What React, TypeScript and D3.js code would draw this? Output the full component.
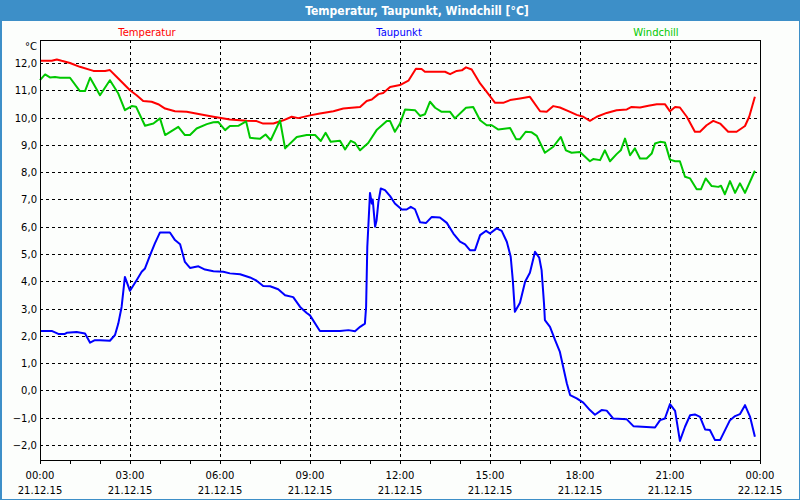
import React from "react";
import * as d3 from "d3";

const tempHours = [0, 0.39, 0.56, 0.72, 1.0, 1.33, 1.78, 2.17, 2.33, 2.61, 3.0, 3.22, 3.44, 3.72, 3.94, 4.17, 4.5, 4.89, 5.33, 5.78, 6.33, 6.89, 7.22, 7.44, 7.78, 8.11, 8.39, 8.61, 9.0, 9.33, 9.78, 10.11, 10.67, 10.89, 11.06, 11.28, 11.44, 11.67, 12.0, 12.28, 12.53, 12.72, 12.83, 13.5, 13.67, 13.89, 14.06, 14.2, 14.39, 14.67, 14.89, 15.17, 15.44, 15.67, 16.0, 16.33, 16.67, 16.89, 17.11, 17.33, 17.67, 17.89, 18.11, 18.33, 18.56, 18.89, 19.22, 19.56, 19.72, 20.0, 20.28, 20.56, 20.83, 21.0, 21.17, 21.33, 21.56, 21.83, 22.0, 22.22, 22.44, 22.67, 22.94, 23.22, 23.5, 23.64, 23.83];
const tempValues = [12.08, 12.08, 12.13, 12.08, 12.0, 11.86, 11.71, 11.71, 11.74, 11.43, 11.0, 10.82, 10.61, 10.58, 10.49, 10.33, 10.23, 10.21, 10.12, 10.03, 9.93, 9.88, 9.87, 9.78, 9.78, 9.9, 10.03, 9.98, 10.08, 10.15, 10.23, 10.33, 10.39, 10.61, 10.66, 10.86, 10.9, 11.12, 11.19, 11.35, 11.79, 11.78, 11.68, 11.68, 11.59, 11.71, 11.73, 11.84, 11.76, 11.25, 10.94, 10.54, 10.54, 10.64, 10.7, 10.76, 10.23, 10.21, 10.42, 10.37, 10.21, 10.1, 10.03, 9.88, 10.03, 10.17, 10.27, 10.3, 10.39, 10.37, 10.43, 10.49, 10.49, 10.23, 10.39, 10.37, 10.03, 9.48, 9.48, 9.72, 9.88, 9.78, 9.48, 9.48, 9.69, 10.03, 10.76];

const dewHours = [0, 0.39, 0.61, 0.83, 0.89, 1.22, 1.5, 1.67, 1.83, 2.0, 2.33, 2.5, 2.61, 2.72, 2.83, 3.0, 3.22, 3.39, 3.5, 3.67, 3.83, 4.0, 4.33, 4.5, 4.67, 4.83, 5.0, 5.28, 5.5, 5.78, 6.11, 6.33, 6.67, 7.0, 7.22, 7.44, 7.67, 7.94, 8.17, 8.44, 8.67, 8.89, 9.0, 9.33, 10.0, 10.28, 10.5, 10.67, 10.83, 10.87, 10.91, 11.0, 11.06, 11.09, 11.17, 11.22, 11.28, 11.36, 11.5, 11.67, 11.83, 12.06, 12.22, 12.36, 12.5, 12.67, 12.87, 13.06, 13.33, 13.56, 13.78, 14.0, 14.17, 14.33, 14.5, 14.67, 14.87, 15.0, 15.22, 15.39, 15.56, 15.69, 15.76, 15.83, 16.0, 16.17, 16.33, 16.5, 16.64, 16.72, 16.8, 16.83, 17.0, 17.17, 17.33, 17.44, 17.56, 17.67, 17.89, 18.11, 18.33, 18.5, 18.72, 18.89, 19.11, 19.56, 19.78, 20.5, 20.67, 20.83, 21.0, 21.17, 21.33, 21.5, 21.67, 21.83, 22.0, 22.17, 22.33, 22.5, 22.67, 23.0, 23.17, 23.33, 23.5, 23.67, 23.83];
const dewValues = [2.18, 2.18, 2.07, 2.07, 2.11, 2.14, 2.09, 1.75, 1.84, 1.84, 1.82, 2.03, 2.45, 3.06, 4.16, 3.65, 4.04, 4.35, 4.47, 4.96, 5.39, 5.79, 5.79, 5.51, 5.36, 4.71, 4.49, 4.55, 4.43, 4.37, 4.35, 4.29, 4.26, 4.14, 4.02, 3.83, 3.82, 3.71, 3.49, 3.42, 3.06, 2.84, 2.75, 2.18, 2.18, 2.21, 2.17, 2.33, 2.45, 3.06, 5.26, 7.24, 6.85, 7.0, 6.0, 6.24, 6.91, 7.4, 7.34, 7.12, 6.85, 6.63, 6.63, 6.73, 6.64, 6.16, 6.14, 6.36, 6.34, 6.14, 5.75, 5.45, 5.35, 5.14, 5.14, 5.69, 5.85, 5.75, 5.94, 5.85, 5.45, 4.9, 4.04, 2.88, 3.21, 3.98, 4.31, 5.08, 4.87, 4.41, 3.19, 2.58, 2.33, 1.84, 1.41, 0.86, 0.26, -0.17, -0.29, -0.45, -0.72, -0.89, -0.72, -0.74, -1.03, -1.06, -1.31, -1.36, -1.09, -1.03, -0.5, -0.75, -1.85, -1.33, -0.91, -0.88, -0.97, -1.43, -1.45, -1.82, -1.82, -1.09, -0.94, -0.87, -0.54, -0.97, -1.7];

const chillHours = [0, 0.17, 0.33, 0.5, 0.67, 1.0, 1.33, 1.5, 1.67, 2.0, 2.33, 2.61, 2.83, 3.06, 3.2, 3.5, 3.78, 4.0, 4.17, 4.61, 4.83, 5.0, 5.22, 5.56, 5.78, 5.94, 6.17, 6.33, 6.61, 6.87, 7.0, 7.33, 7.52, 7.69, 8.0, 8.17, 8.56, 8.89, 9.17, 9.36, 9.52, 9.69, 10.0, 10.17, 10.36, 10.5, 10.67, 10.94, 11.22, 11.56, 11.67, 11.83, 12.0, 12.17, 12.5, 12.67, 12.83, 13.0, 13.17, 13.39, 13.67, 13.83, 14.2, 14.44, 14.67, 14.89, 15.06, 15.28, 15.67, 15.87, 16.0, 16.19, 16.39, 16.56, 16.83, 17.11, 17.36, 17.53, 17.72, 18.0, 18.33, 18.44, 18.67, 18.83, 19.0, 19.22, 19.36, 19.5, 19.67, 19.83, 20.0, 20.22, 20.39, 20.5, 20.67, 20.83, 21.0, 21.17, 21.33, 21.5, 21.67, 21.89, 22.03, 22.19, 22.39, 22.61, 22.7, 22.83, 23.0, 23.17, 23.33, 23.5, 23.83];
const chillValues = [11.37, 11.58, 11.47, 11.49, 11.46, 11.46, 10.97, 10.97, 11.46, 10.82, 11.37, 10.88, 10.27, 10.42, 10.4, 9.7, 9.78, 9.97, 9.36, 9.66, 9.36, 9.36, 9.6, 9.76, 9.83, 9.84, 9.54, 9.69, 9.7, 9.86, 9.26, 9.22, 9.38, 9.17, 9.9, 8.87, 9.29, 9.36, 9.36, 9.14, 9.44, 9.11, 9.15, 8.83, 9.15, 9.07, 8.8, 9.07, 9.54, 9.87, 9.87, 9.48, 9.78, 10.3, 10.27, 10.06, 10.12, 10.58, 10.36, 10.21, 10.21, 9.97, 10.36, 10.39, 9.9, 9.72, 9.72, 9.56, 9.62, 9.21, 9.21, 9.48, 9.46, 9.33, 8.71, 8.93, 9.29, 8.8, 8.71, 8.74, 8.4, 8.48, 8.44, 8.8, 8.4, 8.66, 8.8, 9.23, 8.62, 8.87, 8.5, 8.5, 8.68, 9.05, 9.11, 9.09, 8.46, 8.4, 8.4, 7.83, 7.77, 7.37, 7.37, 7.77, 7.49, 7.46, 7.5, 7.19, 7.67, 7.24, 7.59, 7.24, 8.05];

const yTicks = [-2, -1, 0, 1, 2, 3, 4, 5, 6, 7, 8, 9, 10, 11, 12];
const xTickHours = [0, 3, 6, 9, 12, 15, 18, 21, 24];
const xTimeLabels = ["00:00", "03:00", "06:00", "09:00", "12:00", "15:00", "18:00", "21:00", "00:00"];
const xDateLabels = ["21.12.15", "21.12.15", "21.12.15", "21.12.15", "21.12.15", "21.12.15", "21.12.15", "21.12.15", "22.12.15"];
const seriesNames = ["Temperatur", "Taupunkt", "Windchill"];
const seriesColors = ["#ff0000", "#0000ff", "#00c800"];
const title = "Temperatur, Taupunkt, Windchill [°C]";

const W = 800;
const H = 500;
const left = 40;
const right = 760;
const top = 40;
const bottom = 460;
const FONT = "'DejaVu Sans', Verdana, sans-serif";

export default function App() {
  const x = d3.scaleLinear().domain([0, 24]).range([left, right]);
  const y = d3.scaleLinear().domain([-2, 12]).range([445, 63]);
  const line = d3
    .line<[number, number]>()
    .x((d) => x(d[0]))
    .y((d) => y(d[1]));
  const series = [
    { name: seriesNames[0], color: seriesColors[0], data: tempHours.map((h, i) => [h, tempValues[i]] as [number, number]) },
    { name: seriesNames[1], color: seriesColors[1], data: dewHours.map((h, i) => [h, dewValues[i]] as [number, number]) },
    { name: seriesNames[2], color: seriesColors[2], data: chillHours.map((h, i) => [h, chillValues[i]] as [number, number]) },
  ];
  const hourTicks = d3.range(0, 25);
  const fmt = d3.format(".1f");
  const legendX = [147, 399, 656];
  const px = (v: number) => Math.round(v) + 0.5;

  return (
    <svg
      width={W}
      height={H}
      style={{ position: "fixed", left: 0, top: 0, background: "#fcfefc" }}
      fontFamily={FONT}
    >
      <rect x={0} y={0} width={W} height={H} fill="#fcfefc" />
      <rect x={0} y={0} width={W} height={21} fill="#3d8fc8" />
      <rect x={0.5} y={0.5} width={W - 1} height={H - 1} fill="none" stroke="#3d8fc8" strokeWidth={1} />
      <line x1={1.5} x2={1.5} y1={0} y2={H} stroke="#3d8fc8" strokeWidth={1} />
      <text x={417} y={15} textAnchor="middle" fill="#ffffff" fontWeight="bold" fontSize={12} fontFamily="'DejaVu Sans Condensed', 'DejaVu Sans', sans-serif">
        {title}
      </text>
      {series.map((s, i) => (
        <text key={s.name} x={legendX[i]} y={36} textAnchor="middle" fill={s.color} fontSize={10}>
          {s.name}
        </text>
      ))}
      {/* horizontal grid */}
      {yTicks.map((t) => (
        <line key={"h" + t} x1={left} x2={right} y1={px(y(t))} y2={px(y(t))} stroke="#000" strokeWidth={1} strokeDasharray="3,3" shapeRendering="crispEdges" />
      ))}
      {/* vertical grid */}
      {xTickHours.slice(1, -1).map((h) => (
        <line key={"v" + h} x1={px(x(h))} x2={px(x(h))} y1={top} y2={bottom} stroke="#000" strokeWidth={1} strokeDasharray="3,3" shapeRendering="crispEdges" />
      ))}
      {/* hour ticks */}
      {hourTicks.map((h) => (
        <line key={"t" + h} x1={px(x(h))} x2={px(x(h))} y1={bottom} y2={bottom + 4} stroke="#000" strokeWidth={1} shapeRendering="crispEdges" />
      ))}
      {/* series */}
      {series.map((s) => (
        <path key={"p" + s.name} d={line(s.data) || ""} fill="none" stroke={s.color} strokeWidth={2} strokeLinejoin="round" />
      ))}
      {/* frame */}
      <rect x={left + 0.5} y={top + 0.5} width={right - left} height={bottom - top} fill="none" stroke="#000" strokeWidth={1} shapeRendering="crispEdges" />
      {/* y labels */}
      {yTicks.map((t) => (
        <text key={"yl" + t} x={37} y={y(t) + 4} textAnchor="end" fontSize={10} fill="#000">
          {fmt(t).replace(".", ",")}
        </text>
      ))}
      <text x={37} y={50} textAnchor="end" fontSize={10} fill="#000">°C</text>
      {/* x labels */}
      {xTickHours.map((h, i) => (
        <g key={"xl" + i}>
          <text x={x(h)} y={479} textAnchor="middle" fontSize={10} fill="#000">{xTimeLabels[i]}</text>
          <text x={x(h)} y={494} textAnchor="middle" fontSize={10} fill="#000">{xDateLabels[i]}</text>
        </g>
      ))}
    </svg>
  );
}
